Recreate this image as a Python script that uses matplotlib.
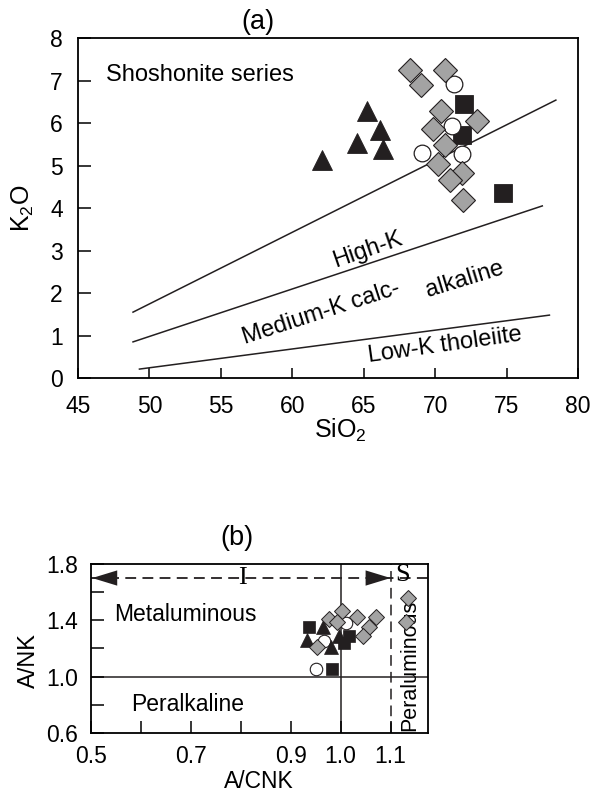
import numpy as np
import matplotlib
matplotlib.use('Agg')
import matplotlib.pyplot as plt
from matplotlib.ticker import FixedLocator

plt.rcParams['font.family'] = ['Liberation Sans', 'DejaVu Sans']
plt.rcParams['mathtext.fontset'] = 'custom'
plt.rcParams['mathtext.rm'] = 'Liberation Sans'
plt.rcParams['mathtext.it'] = 'Liberation Sans:italic'

# ---- panel (a): K2O vs SiO2 ----
tri_a_x = [62.05, 64.55, 65.25, 66.13, 66.37]
tri_a_y = [5.13, 5.52, 6.29, 5.84, 5.38]
sq_a_x = [72.0, 71.85, 74.72]
sq_a_y = [6.46, 5.72, 4.35]
circ_a_x = [71.34, 71.15, 69.05, 71.85]
circ_a_y = [6.91, 5.93, 5.30, 5.27]
dia_a_x = [68.23, 68.98, 70.68, 70.38, 69.82, 72.95, 70.68, 70.22, 71.85, 71.03, 71.97]
dia_a_y = [7.26, 6.89, 7.25, 6.29, 5.87, 6.05, 5.48, 5.04, 4.82, 4.66, 4.19]

# series boundary lines (start, end)
shosh_line = ([48.85, 78.45], [1.55, 6.54])
highk_line = ([48.85, 77.5], [0.85, 4.05])
lowk_line = ([49.3, 78.0], [0.21, 1.48])

# ---- panel (b): A/NK vs A/CNK ----
dia_b_x = [1.002, 1.032, 1.070, 1.057, 1.044, 0.977, 0.992, 0.952, 1.134, 1.130]
dia_b_y = [1.469, 1.426, 1.426, 1.350, 1.286, 1.409, 1.386, 1.207, 1.559, 1.391]
tri_b_x = [0.933, 0.965, 0.981, 0.997]
tri_b_y = [1.262, 1.350, 1.207, 1.291]
sq_b_x = [0.937, 1.017, 1.007, 0.982]
sq_b_y = [1.350, 1.291, 1.238, 1.057]
circ_b_x = [1.010, 0.967, 0.950]
circ_b_y = [1.379, 1.255, 1.057]

black = '#231f20'
grey = '#a3a3a3'

fig = plt.figure(figsize=(5.91, 7.98), dpi=100)
ax0 = fig.add_axes([0.132, 0.5263, 0.846, 0.426])
ax1 = fig.add_axes([0.1535, 0.0815, 0.570, 0.2118])

# panel a
for xs, ys in (shosh_line, highk_line, lowk_line):
    ax0.plot(xs, ys, color=black, lw=1.1, zorder=2)
ax0.plot(sq_a_x, sq_a_y, 's', ms=13.5, mfc=black, mec=black, mew=0.6, zorder=3)
ax0.plot(circ_a_x, circ_a_y, 'o', ms=12, mfc='white', mec=black, mew=0.9, zorder=4)
ax0.plot(tri_a_x, tri_a_y, '^', ms=14, mfc=black, mec=black, mew=0.6, zorder=4)
ax0.plot(dia_a_x, dia_a_y, 'D', ms=12.5, mfc=grey, mec=black, mew=0.8, zorder=5)

ax0.set_xlim(45, 80)
ax0.set_ylim(0, 8)
ax0.set_xticks(np.arange(45, 81, 5))
ax0.set_yticks(np.arange(0, 9, 1))
ax0.xaxis.set_minor_locator(FixedLocator([45, 80]))
ax0.yaxis.set_minor_locator(FixedLocator([0, 8]))
ax0.tick_params(which='major', direction='in', labelsize=16.5, width=1.1)
ax0.tick_params(axis='x', which='major', length=7, pad=12)
ax0.tick_params(axis='y', which='major', length=9, pad=11)
ax0.tick_params(which='minor', direction='out', length=8, width=1.1)
for s in ax0.spines.values():
    s.set_linewidth(1.3)

ax0.set_xlabel('SiO$_2$', fontsize=18)
ax0.xaxis.set_label_coords(0.524, -0.115)
ax0.set_ylabel('K$_2$O', fontsize=18)
ax0.yaxis.set_label_coords(-0.085, 0.5)
ax0.text(0.36, 1.047, '(a)', transform=ax0.transAxes, fontsize=19.5, ha='center', va='center')

ax0.text(46.96, 7.13, 'Shoshonite series', fontsize=17, ha='left', va='center')
ax0.text(65.3, 3.01, 'High-K', fontsize=17, rotation=19, ha='center', va='center')
ax0.text(62.0, 1.53, 'Medium-K calc-', fontsize=17, rotation=18, ha='center', va='center')
ax0.text(72.1, 2.31, 'alkaline', fontsize=17, rotation=17, ha='center', va='center')
ax0.text(70.7, 0.78, 'Low-K tholeiite', fontsize=17, rotation=8, ha='center', va='center')

# panel b
ax1.axhline(1.0, color=black, lw=1.1, zorder=1)
ax1.axvline(1.0, color=black, lw=1.1, zorder=1)
ax1.axvline(1.1, color=black, lw=1.1, ls=(0, (7, 4)), zorder=1)
ax1.plot([0.5, 1.174], [1.7, 1.7], color=black, lw=1.3, ls=(0, (6, 3.5)), zorder=1)
ax1.annotate('', xy=(0.503, 1.7), xytext=(0.56, 1.7),
             arrowprops=dict(arrowstyle='-|>,head_length=1.8,head_width=0.55',
                             color=black, lw=0, shrinkA=0, shrinkB=0))
ax1.annotate('', xy=(1.1, 1.7), xytext=(1.04, 1.7),
             arrowprops=dict(arrowstyle='-|>,head_length=1.8,head_width=0.55',
                             color=black, lw=0, shrinkA=0, shrinkB=0))

ax1.plot(sq_b_x, sq_b_y, 's', ms=9, mfc=black, mec=black, mew=0.5, zorder=3)
ax1.plot(circ_b_x, circ_b_y, 'o', ms=9, mfc='white', mec=black, mew=0.8, zorder=4)
ax1.plot(tri_b_x, tri_b_y, '^', ms=10, mfc=black, mec=black, mew=0.5, zorder=4)
ax1.plot(dia_b_x, dia_b_y, 'D', ms=8, mfc=grey, mec=black, mew=0.7, zorder=5)

ax1.set_xlim(0.5, 1.174)
ax1.set_ylim(0.6, 1.8)
ax1.set_xticks([0.5, 0.6, 0.7, 0.8, 0.9, 1.0, 1.1])
ax1.set_xticklabels(['0.5', '', '0.7', '', '0.9', '1.0', '1.1'])
ax1.set_yticks([0.6, 0.8, 1.0, 1.2, 1.4, 1.6, 1.8])
ax1.set_yticklabels(['0.6', '', '1.0', '', '1.4', '', '1.8'])
ax1.yaxis.set_minor_locator(FixedLocator([0.6, 1.8]))
ax1.tick_params(which='major', direction='in', length=9, width=1.1, labelsize=16.5, pad=9)
ax1.tick_params(axis='y', which='minor', direction='out', length=6, width=1.1)
for s in ax1.spines.values():
    s.set_linewidth(1.3)

ax1.set_xlabel('A/CNK', fontsize=16.5, labelpad=1)
ax1.set_ylabel('A/NK', fontsize=17)
ax1.yaxis.set_label_coords(-0.15, 0.43)
ax1.text(0.435, 1.154, '(b)', transform=ax1.transAxes, fontsize=19.5, ha='center', va='center')

ax1.text(0.068, 0.698, 'Metaluminous', transform=ax1.transAxes, fontsize=16.5, ha='left', va='center')
ax1.text(0.119, 0.166, 'Peralkaline', transform=ax1.transAxes, fontsize=16.5, ha='left', va='center')
ax1.text(0.948, 0.402, 'Peraluminous', transform=ax1.transAxes, fontsize=15.5, rotation=90,
         ha='center', va='center')
ax1.text(0.451, 0.917, 'I', transform=ax1.transAxes, fontsize=19, family='Liberation Serif',
         ha='center', va='center')
ax1.text(0.926, 0.932, 'S', transform=ax1.transAxes, fontsize=19, family='Liberation Serif',
         ha='center', va='center')

fig.savefig('out.png', dpi=100)
